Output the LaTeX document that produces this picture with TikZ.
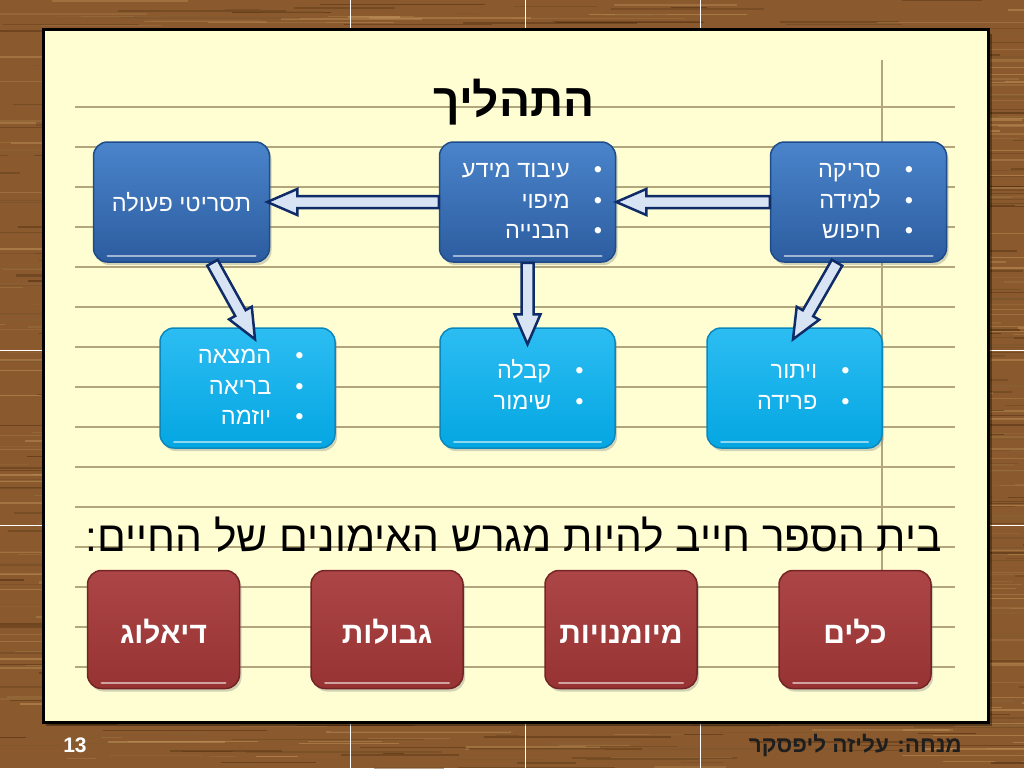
\documentclass[tikz,border=0pt]{standalone}
\usepackage{fontspec}
\setmainfont{Liberation Sans}
\newfontfamily\heb[Script=Hebrew]{Liberation Sans}
\usepackage{graphicx}
\usetikzlibrary{calc,shadows}
\TeXXeTstate=1
\definecolor{woodbase}{HTML}{8A5A2E}
\definecolor{wooddark}{HTML}{452408}
\definecolor{woodlight}{HTML}{C99A5E}
\definecolor{paper}{HTML}{FFFED2}
\definecolor{ruling}{HTML}{B2A77C}
\definecolor{dbTop}{HTML}{4A84CB}
\definecolor{dbBot}{HTML}{2C5C9F}
\definecolor{dbBorder}{HTML}{1E4C8A}
\definecolor{cyTop}{HTML}{2CBDF2}
\definecolor{cyBot}{HTML}{04A6E2}
\definecolor{cyBorder}{HTML}{0A88BE}
\definecolor{rdTop}{HTML}{AC4646}
\definecolor{rdBot}{HTML}{983333}
\definecolor{rdBorder}{HTML}{742424}
\definecolor{arFill}{HTML}{D8E4F4}
\definecolor{arLine}{HTML}{0F2C68}
\definecolor{foottext}{HTML}{1E1E1E}
\tikzset{
  boxbase/.style={rounded corners=14pt, line width=1.5pt,
    drop shadow={opacity=.35, shadow xshift=2pt, shadow yshift=-3pt},
    path picture={\draw[white, opacity=.55, line width=2pt, line cap=round]
      ([xshift=14pt,yshift=6pt]path picture bounding box.south west) --
      ([xshift=-14pt,yshift=6pt]path picture bounding box.south east);}},
  darkbox/.style={boxbase, draw=dbBorder, top color=dbTop, bottom color=dbBot,
    minimum width=176pt, minimum height=120pt, text=white,
    font=\heb\fontsize{23.5}{30}\selectfont},
  cyanbox/.style={boxbase, draw=cyBorder, top color=cyTop, bottom color=cyBot,
    minimum width=175pt, minimum height=120pt},
  redbox/.style={boxbase, draw=rdBorder, top color=rdTop, bottom color=rdBot,
    minimum width=152pt, minimum height=118pt, text=white,
    text height=27pt, text depth=0pt,
    font=\heb\bfseries\fontsize{30}{34}\selectfont},
  bultext/.style={anchor=east, inner sep=0pt, text=white,
    font=\heb\fontsize{23.5}{30.5}\selectfont},
  barrow/.style={draw=arLine, fill=arFill, line width=2.5pt, line join=miter},
  rule/.style={draw=ruling, line width=2.5pt}
}
\newcommand\blockarrow[2]{%
  \coordinate (ba-s) at #1;
  \coordinate (ba-e) at #2;
  \coordinate (ba-h) at ($(ba-e)!30pt!(ba-s)$);
  \draw[barrow] ($(ba-s)!6pt!90:(ba-e)$) -- ($(ba-h)!6pt!-90:(ba-s)$)
    -- ($(ba-h)!13pt!-90:(ba-s)$) -- (ba-e) -- ($(ba-h)!13pt!90:(ba-s)$)
    -- ($(ba-h)!6pt!90:(ba-s)$) -- ($(ba-s)!6pt!-90:(ba-e)$) -- cycle;}
\begin{document}
\begin{tikzpicture}[x=1pt, y=-1pt]
\useasboundingbox (0,0) rectangle (1024,768);
% wood background
\fill[woodbase] (0,0) rectangle (1024,768);
\pgfmathsetseed{11}
\foreach \i in {1,...,1400}{
  \pgfmathsetmacro\yy{rnd*768}
  \pgfmathsetmacro\xx{rnd*1100-60}
  \pgfmathsetmacro\ll{20+rnd*180}
  \pgfmathsetmacro\ww{0.4+rnd*1.8}
  \pgfmathsetmacro\cc{rnd*100}
  \draw[line width=\ww pt, color=wooddark!\cc!woodlight, opacity=0.5] (\xx,\yy) -- ++(\ll,0);
}
% tile seams
\foreach \sx in {350,525,700}{
  \draw[white, line width=1pt] (\sx,0) -- (\sx,29);
  \draw[white, line width=1pt] (\sx,723) -- (\sx,768);
}
\foreach \sy in {350,525}{
  \draw[white, line width=1pt] (0,\sy) -- (42,\sy);
  \draw[white, line width=1pt] (989,\sy) -- (1024,\sy);
}
% paper
\fill[black, opacity=.35] (46,34) rectangle (992,726);
\draw[fill=paper, draw=black, line width=3pt] (43,30) rectangle (988,722);
\foreach \k in {0,...,14}{
  \draw[rule] (75,107+40*\k) -- (955,107+40*\k);
}
\draw[rule] (882,60) -- (882,570);
% title
\node[font=\heb\bfseries\fontsize{46}{50}\selectfont, anchor=base, text=black] (title) at (514,116) {\beginR התהליך\endR};
% top row
\node[darkbox] (t1) at (181.5,202) {\beginR תסריטי פעולה\endR};
\node[darkbox] (t2) at (527.5,202) {};
\node[darkbox] (t3) at (858.5,202) {};
\node[bultext] (t2txt) at ([xshift=-14pt]t2.east) {\begin{tabular}{@{}r@{\hspace{24pt}}c@{}}\beginR עיבוד מידע\endR & \textbullet\\ \beginR מיפוי\endR & \textbullet\\ \beginR הבנייה\endR & \textbullet\end{tabular}};
\node[bultext] (t3txt) at ([xshift=-34pt]t3.east) {\begin{tabular}{@{}r@{\hspace{24pt}}c@{}}\beginR סריקה\endR & \textbullet\\ \beginR למידה\endR & \textbullet\\ \beginR חיפוש\endR & \textbullet\end{tabular}};
% middle row
\node[cyanbox] (m1) at (247.5,388) {};
\node[cyanbox] (m2) at (527.5,388) {};
\node[cyanbox] (m3) at (794.5,388) {};
\node[bultext] (m1txt) at ([xshift=-32pt]m1.east) {\begin{tabular}{@{}r@{\hspace{24pt}}c@{}}\beginR המצאה\endR & \textbullet\\ \beginR בריאה\endR & \textbullet\\ \beginR יוזמה\endR & \textbullet\end{tabular}};
\node[bultext] (m2txt) at ([xshift=-32pt]m2.east) {\begin{tabular}{@{}r@{\hspace{24pt}}c@{}}\beginR קבלה\endR & \textbullet\\ \beginR שימור\endR & \textbullet\end{tabular}};
\node[bultext] (m3txt) at ([xshift=-33pt]m3.east) {\begin{tabular}{@{}r@{\hspace{24pt}}c@{}}\beginR ויתור\endR & \textbullet\\ \beginR פרידה\endR & \textbullet\end{tabular}};
% arrows
\blockarrow{(t3.west)}{(t2.east)}
\blockarrow{(t2.west)}{([xshift=-3pt]t1.east)}
\blockarrow{([xshift=31pt]t1.south)}{([xshift=7.5pt,yshift=-12pt]m1.north)}
\blockarrow{(t2.south)}{([yshift=-17pt]m2.north)}
\blockarrow{([xshift=-21.5pt]t3.south)}{([xshift=-1.5pt,yshift=-12pt]m3.north)}
% subtitle
\node[font=\heb\fontsize{42.5}{46}\selectfont, anchor=base east, text=black, inner sep=0pt] (sub) at (942,551) {\beginR בית הספר חייב להיות מגרש האימונים של החיים:\endR};
% bottom row
\node[redbox] (b1) at (163.5,629.5) {\beginR דיאלוג\endR};
\node[redbox] (b2) at (387,629.5) {\beginR גבולות\endR};
\node[redbox] (b3) at (621,629.5) {\beginR מיומנויות\endR};
\node[redbox] (b4) at (855,629.5) {\beginR כלים\endR};
% footer
\node[font=\bfseries\fontsize{21}{24}\selectfont, text=white, anchor=base, inner sep=0pt] (pnum) at (75,752) {13};
\node[font=\heb\bfseries\fontsize{22.5}{26}\selectfont, text=foottext, anchor=base east, inner sep=0pt] (author) at (962,752) {\beginR מנחה: עליזה ליפסקר\endR};
\end{tikzpicture}
\end{document}
